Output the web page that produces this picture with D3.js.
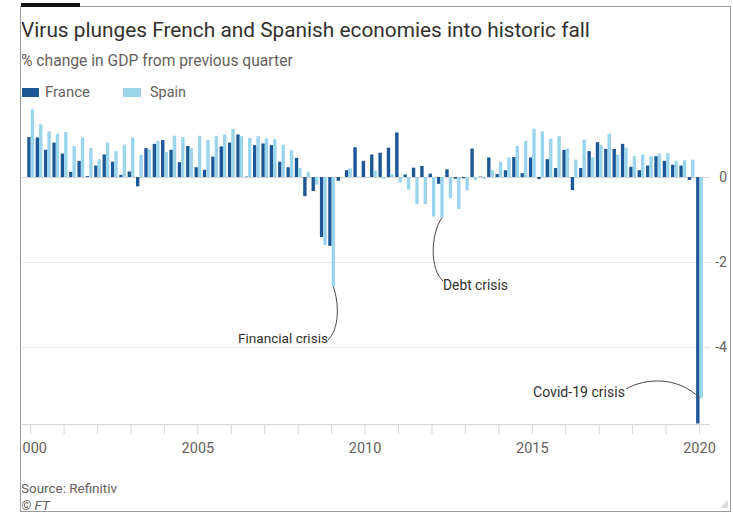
<!DOCTYPE html>
<html>
<head>
<meta charset="utf-8">
<script src="https://cdn.jsdelivr.net/npm/d3@7"></script>
<style>
  body { margin: 0; background: #fff; }
  svg { display: block; font-family: Roboto, "Open Sans", sans-serif; }
</style>
</head>
<body>
<svg id="chart" width="733" height="514"></svg>
<script>
(function(d3) {
    "use strict";

    // quarters 2000Q1 .. 2020Q1
    var quarters = [];
    d3.range(2000, 2021).forEach(function(yr) {
        [1, 2, 3, 4].forEach(function(q) {
            if (yr < 2020 || q === 1) quarters.push(yr + "Q" + q);
        });
    });

    var france = [
        0.94, 0.93, 0.64, 0.81,
        0.55, 0.12, 0.38, 0.02,
        0.27, 0.53, 0.36, 0.05,
        0.13, -0.22, 0.68, 0.78,
        0.87, 0.64, 0.35, 0.73,
        0.23, 0.17, 0.48, 0.72,
        0.81, 1.00, 0.01, 0.75,
        0.79, 0.75, 0.36, 0.23,
        0.45, -0.45, -0.33, -1.41,
        -1.62, -0.09, 0.16, 0.70,
        0.38, 0.53, 0.57, 0.69,
        1.05, 0.06, 0.22, 0.26,
        0.08, -0.16, 0.18, -0.04,
        -0.03, 0.67, 0.01, 0.46,
        0.07, 0.16, 0.47, 0.09,
        0.46, -0.05, 0.42, 0.21,
        0.64, -0.31, 0.21, 0.61,
        0.82, 0.66, 0.66, 0.78,
        0.24, 0.16, 0.27, 0.49,
        0.38, 0.29, 0.27, -0.07,
        -5.8
    ];

    var spain = [
        1.59, 1.24, 1.07, 1.02,
        1.06, 0.73, 0.93, 0.68,
        0.42, 0.81, 0.61, 0.76,
        0.93, 0.52, 0.65, 0.85,
        0.59, 0.97, 0.94, 0.68,
        0.97, 0.87, 0.96, 1.00,
        1.13, 0.96, 0.92, 0.96,
        0.91, 0.89, 0.76, 0.63,
        0.21, 0.12, -0.18, -1.60,
        -2.58, 0.00, 0.20, 0.01,
        -0.02, 0.15, -0.05, 0.07,
        -0.13, -0.30, -0.64, -0.64,
        -0.93, -0.95, -0.50, -0.75,
        -0.31, -0.07, -0.05, 0.16,
        0.36, 0.46, 0.73, 0.85,
        1.14, 1.07, 0.90, 0.96,
        0.67, 0.41, 0.88, 0.46,
        0.75, 1.02, 0.53, 0.69,
        0.49, 0.53, 0.49, 0.55,
        0.56, 0.38, 0.39, 0.41,
        -5.2
    ];

    var seriesNames = ["France", "Spain"];
    var yTicks = [0, -2, -4];
    var labelYears = [2000, 2005, 2010, 2015, 2020];

    var color = d3.scaleOrdinal().domain(seriesNames).range(["#1d5795", "#9ad5ec"]);

    var svg = d3.select("#chart");

    // frame clip, content left of the border is cut off
    svg.append("clipPath").attr("id", "frame")
        .append("rect").attr("x", 22).attr("y", 0).attr("width", 711).attr("height", 514);

    var g = svg.append("g").attr("clip-path", "url(#frame)");

    var x = d3.scaleBand().domain(quarters).range([26.5, 703.7]).padding(0);
    var xs = d3.scaleBand().domain(seriesNames).range([0, x.bandwidth()])
        .paddingInner(0).paddingOuter(0.23);
    var y = d3.scaleLinear().domain([-5.8, 1.8]).range([423.5, 100.5]);

    // grid
    g.selectAll(".grid").data(yTicks).enter().append("line")
        .attr("x1", 21).attr("x2", 710)
        .attr("y1", function(d) { return Math.round(y(d)) + 0.5; })
        .attr("y2", function(d) { return Math.round(y(d)) + 0.5; })
        .attr("stroke", function(d) { return d === 0 ? "#d8d4cf" : "#ebe8e4"; })
        .attr("stroke-width", 1);

    g.selectAll(".ylab").data(yTicks).enter().append("text")
        .attr("x", 727).attr("y", function(d) { return y(d); })
        .attr("dy", "0.35em").attr("text-anchor", "end")
        .attr("font-size", 14).attr("fill", "#66605c")
        .text(function(d) { return String(d); });

    // bars
    var rows = quarters.map(function(q, i) {
        return { q: q, values: [{ k: "France", v: france[i] }, { k: "Spain", v: spain[i] }] };
    });

    g.append("g").selectAll("g").data(rows).enter().append("g")
        .attr("transform", function(d) { return "translate(" + x(d.q) + ",0)"; })
        .selectAll("rect").data(function(d) { return d.values; }).enter().append("rect")
        .attr("x", function(d) { return xs(d.k); })
        .attr("width", xs.bandwidth())
        .attr("y", function(d) { return y(Math.max(0, d.v)); })
        .attr("height", function(d) { return Math.abs(y(d.v) - y(0)); })
        .attr("fill", function(d) { return color(d.k); });

    // x axis
    g.append("line")
        .attr("x1", 21).attr("x2", 710).attr("y1", 424.5).attr("y2", 424.5)
        .attr("stroke", "#d8d4cf");

    var xAxis = d3.axisBottom(x)
        .tickValues(quarters.filter(function(q) { return /Q1$/.test(q); }))
        .tickSize(10).tickPadding(9)
        .tickFormat(function(q) {
            var yr = +q.slice(0, 4);
            return labelYears.indexOf(yr) >= 0 ? yr : "";
        });

    var ax = g.append("g").attr("transform", "translate(0,424)").call(xAxis);
    ax.select(".domain").remove();
    ax.selectAll(".tick line").attr("stroke", "#d8d4cf");
    ax.selectAll(".tick text").attr("fill", "#66605c").attr("font-size", 14.5)
        .attr("font-family", "Roboto, sans-serif");

    // annotations
    var ann = g.append("g").attr("fill", "none").attr("stroke", "#4a4542").attr("stroke-width", 1);
    var fx = function(q, k) { return x(q) + xs(k) + xs.bandwidth() / 2; };

    var p1 = [fx("2009Q1", "Spain"), y(-2.58)];
    ann.append("path").attr("d", "M" + p1[0] + "," + p1[1] +
        " C" + (p1[0] + 6) + "," + (p1[1] + 18) + " " + (p1[0] + 6) + "," + (p1[1] + 42) + " 328,340");

    var p2 = [fx("2012Q2", "Spain"), y(-0.95)];
    ann.append("path").attr("d", "M" + p2[0] + "," + p2[1] +
        " C" + (p2[0] - 12) + "," + (p2[1] + 18) + " " + (p2[0] - 12) + "," + (p2[1] + 52) + " 443,281");

    var p3 = [x("2020Q1") + x.bandwidth() / 2, y(-5.2)];
    ann.append("path").attr("d", "M626,389 C645,378 678,376 " + p3[0] + "," + p3[1]);

    var annText = [
        { t: "Financial crisis", x: 238, y: 343, w: 90 },
        { t: "Debt crisis", x: 443, y: 290, w: 65 },
        { t: "Covid-19 crisis", x: 533, y: 397, w: 92 }
    ];

    function fit(sel, w) {
        var len = sel.node().getComputedTextLength();
        var fs = parseFloat(sel.attr("font-size"));
        sel.attr("font-size", (fs * w / len).toFixed(2));
    }

    annText.forEach(function(d) {
        var t = g.append("text").attr("x", d.x).attr("y", d.y)
            .attr("font-size", 13).attr("fill", "#33302e").text(d.t);
        fit(t, d.w);
    });

    // header
    var title = g.append("text").attr("x", 21).attr("y", 37)
        .attr("font-size", 20).attr("fill", "#33302e")
        .text("Virus plunges French and Spanish economies into historic fall");
    fit(title, 569);

    var sub = g.append("text").attr("x", 21).attr("y", 66)
        .attr("font-size", 14).attr("fill", "#66605c")
        .text("% change in GDP from previous quarter");
    fit(sub, 272);

    var legX = [21, 123], legTextX = [45, 150], legW = [45, 36];
    seriesNames.forEach(function(name, i) {
        g.append("rect").attr("x", legX[i]).attr("y", 88).attr("width", 18).attr("height", 9)
            .attr("fill", color(name));
        var t = g.append("text").attr("x", legTextX[i]).attr("y", 97)
            .attr("font-size", 14).attr("fill", "#66605c").text(name);
        fit(t, legW[i]);
    });

    var src = g.append("text").attr("x", 21).attr("y", 493)
        .attr("font-size", 13).attr("fill", "#66605c").text("Source: Refinitiv");
    fit(src, 96);
    g.append("text").attr("x", 21).attr("y", 510)
        .attr("font-size", 13.5).attr("font-style", "italic").attr("fill", "#66605c").text("\u00a9 FT");

    // frame
    svg.append("rect").attr("x", 20.5).attr("y", 6.5).attr("width", 710).attr("height", 505)
        .attr("fill", "none").attr("stroke", "#9b9b9b");
    svg.append("rect").attr("x", 21).attr("y", 3).attr("width", 59).attr("height", 4).attr("fill", "#111");
    svg.append("path").attr("d", "M728,500 L728,508 L720,508 Z").attr("fill", "#ddd");

})(d3);
</script>
</body>
</html>
